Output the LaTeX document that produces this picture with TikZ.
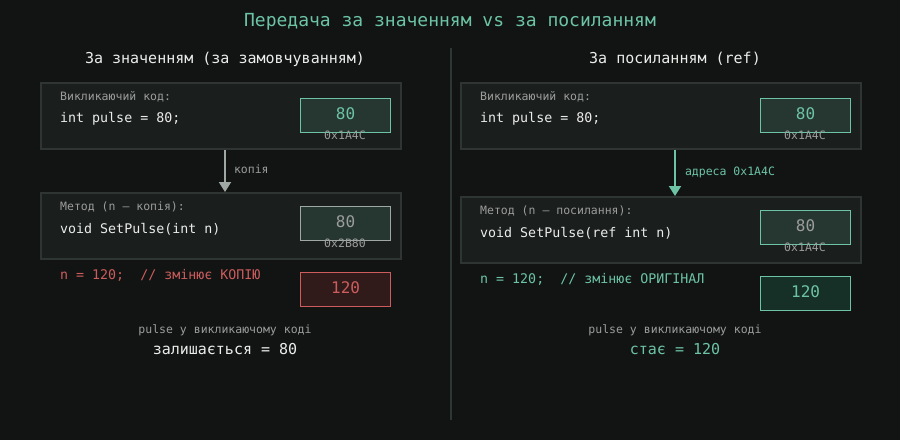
\documentclass[tikz,border=0pt]{standalone}
\usepackage{fontspec}
\setmainfont{DejaVu Sans Mono}
\usetikzlibrary{arrows.meta}
\usetikzlibrary{calc}

\definecolor{bgdark}{RGB}{18,20,20}
\definecolor{panelfill}{RGB}{26,30,29}
\definecolor{panelline}{RGB}{46,53,51}
\definecolor{tealc}{RGB}{108,196,164}
\definecolor{valfill}{RGB}{38,54,49}
\definecolor{hintgray}{RGB}{155,157,155}
\definecolor{codewhite}{RGB}{235,237,235}
\definecolor{arrowgray}{RGB}{160,168,164}
\definecolor{redc}{RGB}{205,92,92}
\definecolor{redfill}{RGB}{48,26,26}
\definecolor{greenfill}{RGB}{22,48,40}
\definecolor{divline}{RGB}{45,55,52}

\newcommand\fsz[1]{\fontsize{#1}{#1}\selectfont}

\tikzset{
    panel/.style={draw=panelline, line width=2pt, fill=panelfill,
        minimum height=66pt, anchor=north west, inner sep=0pt},
    valbox/.style={line width=1.2pt, minimum width=90pt, minimum height=34pt,
        anchor=north west, inner sep=0pt, text depth=4pt, font=\fsz{16}},
    hint/.style={text=hintgray, font=\fsz{11.5}, inner sep=0pt},
    code/.style={text=codewhite, font=\fsz{13.3}, inner sep=0pt, anchor=west},
    head/.style={text=codewhite, font=\fsz{15}, inner sep=0pt},
}

\begin{document}
\begin{tikzpicture}[x=1pt, y=-1pt]

    \fill[bgdark] (0,0) rectangle (900,440);
    \useasboundingbox (0,0) rectangle (900,440);

    % headings
    \node[text=tealc, font=\fsz{18}, inner sep=0pt] (title) at (450,22)
        {Передача за значенням vs за посиланням};
    \node[head] (headL) at (225,59) {За значенням (за замовчуванням)};
    \node[head] (headR) at (675,59) {За посиланням (ref)};
    \coordinate (divTop) at (451,48);
    \coordinate (divBot) at (451,420);
    \draw[divline, line width=2pt] (divTop) -- (divBot);

    % left: by value
    \node[panel, minimum width=360pt] (callL) at (40,82) {};
    \node[hint, anchor=west] (callLcap) at ($(callL.north west)+(20,15)$) {Викликаючий код:};
    \node[code] (callLcode) at ($(callL.north west)+(20,37)$) {int pulse = 80;};
    \node[valbox, draw=tealc, fill=valfill, text=tealc] (valCallL) at (300,98) {80};
    \node[hint] (adrCallL) at (345,135) {0x1A4C};

    \node[panel, minimum width=360pt] (methL) at (40,192) {};
    \node[hint, anchor=west] (methLcap) at ($(methL.north west)+(20,15)$) {Метод (n — копія):};
    \node[code] (methLcode) at ($(methL.north west)+(20,37)$) {void SetPulse(int n)};
    \node[valbox, draw=arrowgray, fill=valfill, text=hintgray] (valMethL) at (300,206) {80};
    \node[hint] (adrMethL) at (345,243) {0x2B80};

    \node[code, text=redc] (setL) at (60,275) {n = 120;\ \ // змінює КОПІЮ};
    \node[valbox, draw=redc, fill=redfill, text=redc] (valSetL) at (300,272) {120};

    \node[hint] (noteL) at (225,330) {pulse у викликаючому коді};
    \node[head] (resL) at (225,349) {залишається = 80};

    \draw[arrowgray, line width=2pt, -{Triangle[width=12pt,length=10pt]}]
        (callL.south -| headL) -- node[hint, right=8pt, yshift=2pt] (copyL) {копія} (methL.north -| headL);

    % right: by reference
    \node[panel, minimum width=400pt] (callR) at (460,82) {};
    \node[hint, anchor=west] (callRcap) at ($(callR.north west)+(20,15)$) {Викликаючий код:};
    \node[code] (callRcode) at ($(callR.north west)+(20,37)$) {int pulse = 80;};
    \node[valbox, draw=tealc, fill=valfill, text=tealc] (valCallR) at (760,98) {80};
    \node[hint] (adrCallR) at (805,135) {0x1A4C};

    \node[panel, minimum width=400pt] (methR) at (460,196) {};
    \node[hint, anchor=west] (methRcap) at ($(methR.north west)+(20,15)$) {Метод (n — посилання):};
    \node[code] (methRcode) at ($(methR.north west)+(20,37)$) {void SetPulse(ref int n)};
    \node[valbox, draw=tealc, fill=valfill, text=hintgray] (valMethR) at (760,210) {80};
    \node[hint] (adrMethR) at (805,247) {0x1A4C};

    \node[code, text=tealc] (setR) at (480,279) {n = 120;\ \ // змінює ОРИГІНАЛ};
    \node[valbox, draw=tealc, fill=greenfill, text=tealc] (valSetR) at (760,276) {120};

    \node[hint] (noteR) at (675,330) {pulse у викликаючому коді};
    \node[head, text=tealc] (resR) at (675,349) {стає = 120};

    \draw[tealc, line width=2pt, -{Triangle[width=12pt,length=10pt]}]
        (callR.south -| headR) -- node[hint, text=tealc, right=9pt, yshift=1pt] (adrArrow) {адреса 0x1A4C} (methR.north -| headR);

\end{tikzpicture}
\end{document}
